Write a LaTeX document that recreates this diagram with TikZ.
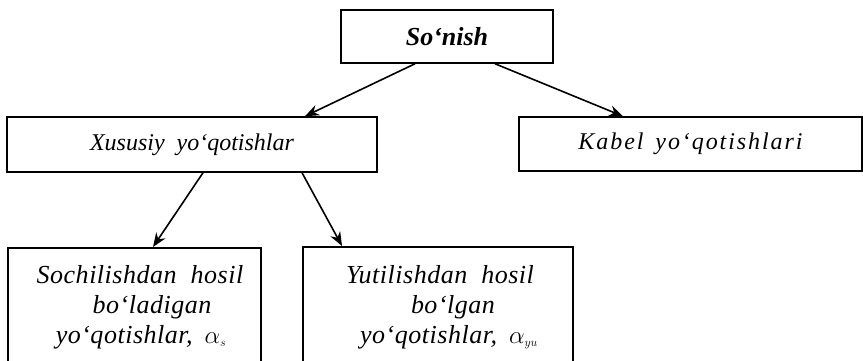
\documentclass[tikz,border=0pt]{standalone}
\usepackage{fontspec}
\setmainfont{Liberation Serif}
\usetikzlibrary{arrows.meta}
\newcommand{\ls}[1]{\addfontfeature{LetterSpace=#1}}
\newcommand{\alf}[1]{$\alpha_{\scriptscriptstyle #1}$}
\tikzset{
  box/.style={draw, line width=1.5pt, rectangle, inner sep=0pt, align=center},
  mid/.style={font=\fontsize{24}{28}\selectfont\itshape},
  low/.style={font=\fontsize{26}{30}\selectfont\itshape\addfontfeature{LetterSpace=2}, anchor=base, inner sep=0pt},
  arr/.style={line width=1.6pt, -{Stealth[length=14pt,width=11pt]}}
}
\begin{document}
\begin{tikzpicture}[x=1pt,y=-1pt]
\useasboundingbox (0,0) rectangle (863,361);
\clip (0,0) rectangle (863,361);
\node[box, minimum width=212pt, minimum height=53pt, font=\fontsize{26}{28}\selectfont\bfseries\itshape] (top) at (447,36.5) {So‘nish};
\node[box, mid, minimum width=370pt, minimum height=55pt] (xus) at (192,144.5) {Xususiy\hspace{12pt}yo‘qotishlar};
\node[box, mid, minimum width=343pt, minimum height=54pt] (kab) at (690.5,144) {\ls{8}Kabel\hspace{12pt}yo‘qotishlari};
\node[box, minimum width=253pt, minimum height=140pt, anchor=north west] (soc) at (7,247) {};
\node[box, minimum width=270pt, minimum height=140pt, anchor=north west] (yut) at (302,246) {};
\node[low] (soc1) at (140,283) {Sochilishdan\hspace{14pt}hosil};
\node[low] (soc2) at (152,313) {bo‘ladigan};
\node[low] (soc3) at (141,343) {yo‘qotishlar,\hspace{12pt}\alf{s}};
\node[low] (yut1) at (440,283) {Yutilishdan\hspace{14pt}hosil};
\node[low] (yut2) at (453,313) {bo‘lgan};
\node[low] (yut3) at (449,343) {yo‘qotishlar,\hspace{12pt}\alf{yu}};
\draw[arr] (top.south -| 415,0) -- (xus.north -| 305,0);
\draw[arr] (top.south -| 495,0) -- (kab.north -| 623,0);
\draw[arr] (xus.south -| 203,0) -- (soc.north -| 153,0);
\draw[arr] (xus.south -| 302,0) -- (yut.north -| 342,0);
\end{tikzpicture}
\end{document}
